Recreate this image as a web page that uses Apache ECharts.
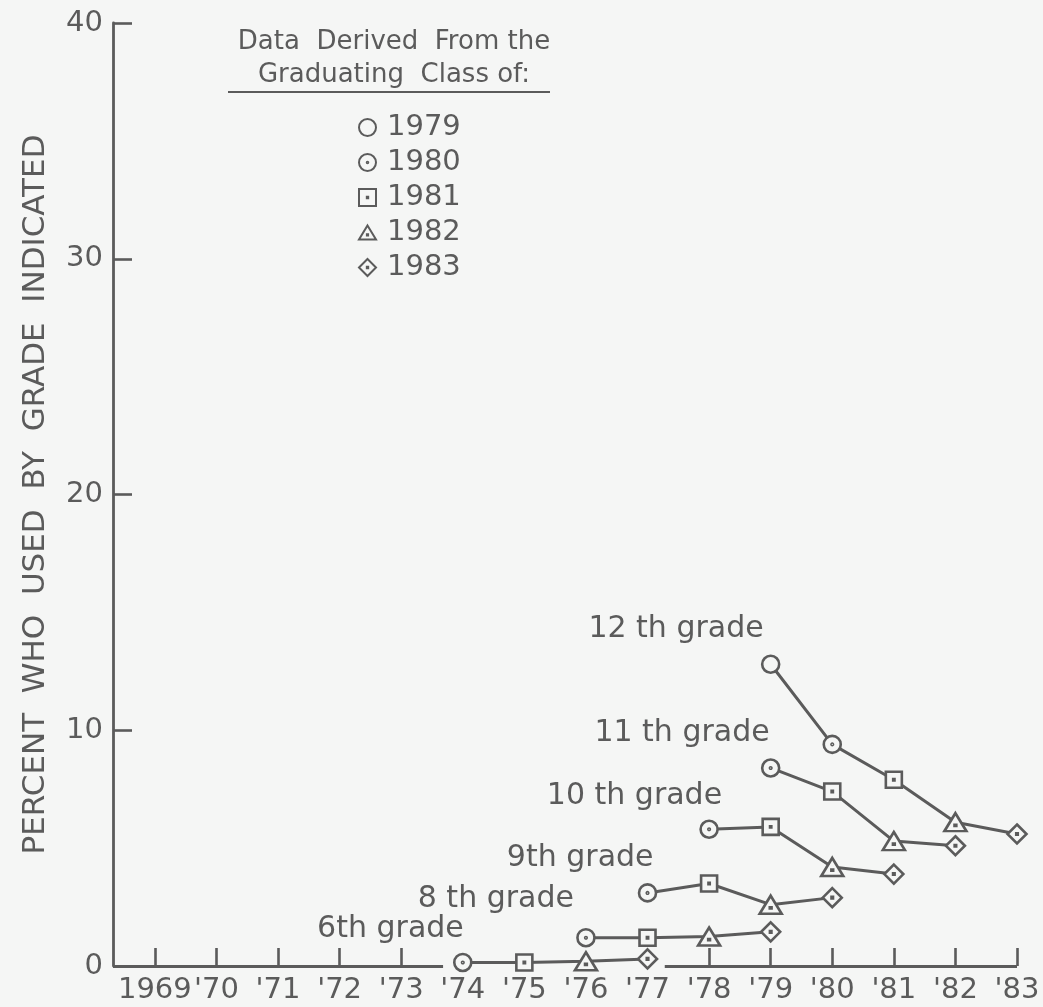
<!DOCTYPE html>
<html>
<head>
<meta charset="utf-8">
<title>Percent who used by grade indicated</title>
<script src="https://cdn.jsdelivr.net/npm/echarts@6/dist/echarts.min.js"></script>
<style>
  html, body { margin: 0; padding: 0; background: #f5f6f5; }
  #chart { width: 1043px; height: 1007px; }
</style>
</head>
<body>
<div id="chart"></div>
<script>
// Survey years shown on the x axis
const yearTicks = [1969, 1970, 1971, 1972, 1973, 1974, 1975, 1976, 1977, 1978, 1979, 1980, 1981, 1982, 1983];
const yTicks = [0, 10, 20, 30, 40];

// Percent who had used by the grade indicated, by calendar year
const gradeNames = ['12 th grade', '11 th grade', '10 th grade', '9th grade', '8 th grade', '6th grade'];
const gradeLevels = [12, 11, 10, 9, 8, 6];
const gradeStartYears = [1979, 1979, 1978, 1977, 1976, 1974];
const grade12 = [12.8, 9.4, 7.9, 6.1, 5.6];
const grade11 = [8.4, 7.4, 5.3, 5.1];
const grade10 = [5.8, 5.9, 4.2, 3.9];
const grade9 = [3.1, 3.5, 2.6, 2.9];
const grade8 = [1.2, 1.2, 1.25, 1.45];
const grade6 = [0.15, 0.15, 0.2, 0.3];
const gradeValues = [grade12, grade11, grade10, grade9, grade8, grade6];

// Graduating classes the points come from
const classYears = [1979, 1980, 1981, 1982, 1983];

// ---- styling ----
const INK = '#5b5b5b';
const BG = '#f5f6f5';
const FONT = '"DejaVu Sans", sans-serif';
const X_MIN = 1968.32;
const X_MAX = 1983;

const classSymbols = [
  'circle',
  'path://M0,-10A10,10 0 1,1 0,10A10,10 0 1,1 0,-10Z M0,-0.9A0.9,0.9 0 1,1 0,0.9A0.9,0.9 0 1,1 0,-0.9Z',
  'path://M-10,-10H10V10H-10Z M-0.8,-0.8H0.8V0.8H-0.8Z',
  'path://M0,-10L11.5,9L-11.5,9Z M-0.8,2H0.8V3.6H-0.8Z',
  'path://M0,-10L10,0L0,10L-10,0Z M-0.8,-0.8H0.8V0.8H-0.8Z'
];
const classSymbolSizes = [17, 17, 16, [22, 18], 19];
// where each grade caption sits relative to its first point
const gradeLabelOffsets = [[-7, -35], [-1, -35], [13, -33], [6, -35], [-12, -39], [1, -33]];

// one line per grade
const lineSeries = gradeValues.map((vals, g) => ({
  type: 'line',
  name: gradeNames[g],
  data: vals.map((v, i) => [gradeStartYears[g] + i, v]),
  symbol: 'none',
  lineStyle: { color: INK, width: 3 },
  z: 2,
  silent: true,
  legendHoverLink: false
}));

// markers grouped by graduating class
const classSeries = classYears.map((cls, c) => {
  const pts = [];
  gradeValues.forEach((vals, g) => {
    vals.forEach((v, i) => {
      const yr = gradeStartYears[g] + i;
      if (yr + 12 - gradeLevels[g] === cls) {
        const item = { value: [yr, v] };
        if (i === 0) {
          item.label = {
            show: true,
            formatter: gradeNames[g],
            position: 'inside',
            align: 'right',
            verticalAlign: 'middle',
            offset: gradeLabelOffsets[g],
            color: INK,
            fontFamily: FONT,
            fontSize: 30
          };
        }
        pts.push(item);
      }
    });
  });
  return {
    type: 'scatter',
    name: String(cls),
    data: pts,
    symbol: classSymbols[c],
    symbolSize: classSymbolSizes[c],
    itemStyle: { color: BG, borderColor: INK, borderWidth: 2.6, opacity: 1 },
    z: 3,
    silent: true
  };
});

// baseline drawn in two pieces, leaving room for the 6th grade line
const baseSeries = {
  type: 'line',
  name: 'baseline',
  data: [],
  silent: true,
  markLine: {
    silent: true,
    symbol: 'none',
    label: { show: false },
    lineStyle: { color: INK, width: 2.8, type: 'solid' },
    data: [
      [{ coord: [X_MIN, 0] }, { coord: [1973.68, 0] }],
      [{ coord: [1977.28, 0] }, { coord: [X_MAX, 0] }]
    ]
  }
};

const chart = echarts.init(document.getElementById('chart'), null, { renderer: 'canvas' });
chart.setOption({
  backgroundColor: BG,
  animation: false,
  textStyle: { fontFamily: FONT, color: INK },
  grid: { left: 113, right: 26, top: 23, bottom: 41 },
  title: {
    text: 'Data  Derived  From the\nGraduating  Class of:',
    left: 389,
    top: 21,
    textAlign: 'center',
    textStyle: { fontFamily: FONT, fontWeight: 'normal', fontSize: 26, color: INK, lineHeight: 33 }
  },
  graphic: [{
    type: 'line',
    shape: { x1: 228, y1: 92, x2: 550, y2: 92 },
    style: { stroke: INK, lineWidth: 2 },
    silent: true
  }],
  legend: {
    data: classYears.map(String),
    orient: 'vertical',
    left: 353,
    top: 108,
    itemWidth: 17,
    itemHeight: 17,
    itemGap: 6,
    selectedMode: false,
    textStyle: { fontFamily: FONT, fontSize: 29, color: INK, lineHeight: 22, padding: [0, 0, 0, 6] }
  },
  xAxis: {
    type: 'value',
    min: X_MIN,
    max: X_MAX,
    splitLine: { show: false },
    axisLine: { show: false },
    axisTick: {
      show: true,
      inside: true,
      length: 18,
      lineStyle: { color: INK, width: 2.6 },
      customValues: yearTicks.filter(y => y <= 1973 || y >= 1978)
    },
    axisLabel: {
      show: true,
      customValues: yearTicks,
      margin: 10,
      fontSize: 29,
      color: INK,
      fontFamily: FONT,
      formatter: v => (v === 1969 ? '1969' : "'" + String(v).slice(2))
    }
  },
  yAxis: {
    type: 'value',
    min: yTicks[0],
    max: yTicks[yTicks.length - 1],
    interval: 10,
    name: 'PERCENT  WHO  USED  BY  GRADE  INDICATED',
    nameLocation: 'middle',
    nameRotate: 90,
    nameGap: 62,
    nameTextStyle: { fontFamily: FONT, fontSize: 31, color: INK },
    splitLine: { show: false },
    axisLine: { show: true, lineStyle: { color: INK, width: 2.8 } },
    axisTick: { show: true, inside: true, length: 19, lineStyle: { color: INK, width: 2.6 } },
    axisLabel: { margin: 10, fontSize: 29, color: INK, fontFamily: FONT }
  },
  series: [baseSeries].concat(lineSeries, classSeries)
});
</script>
</body>
</html>
